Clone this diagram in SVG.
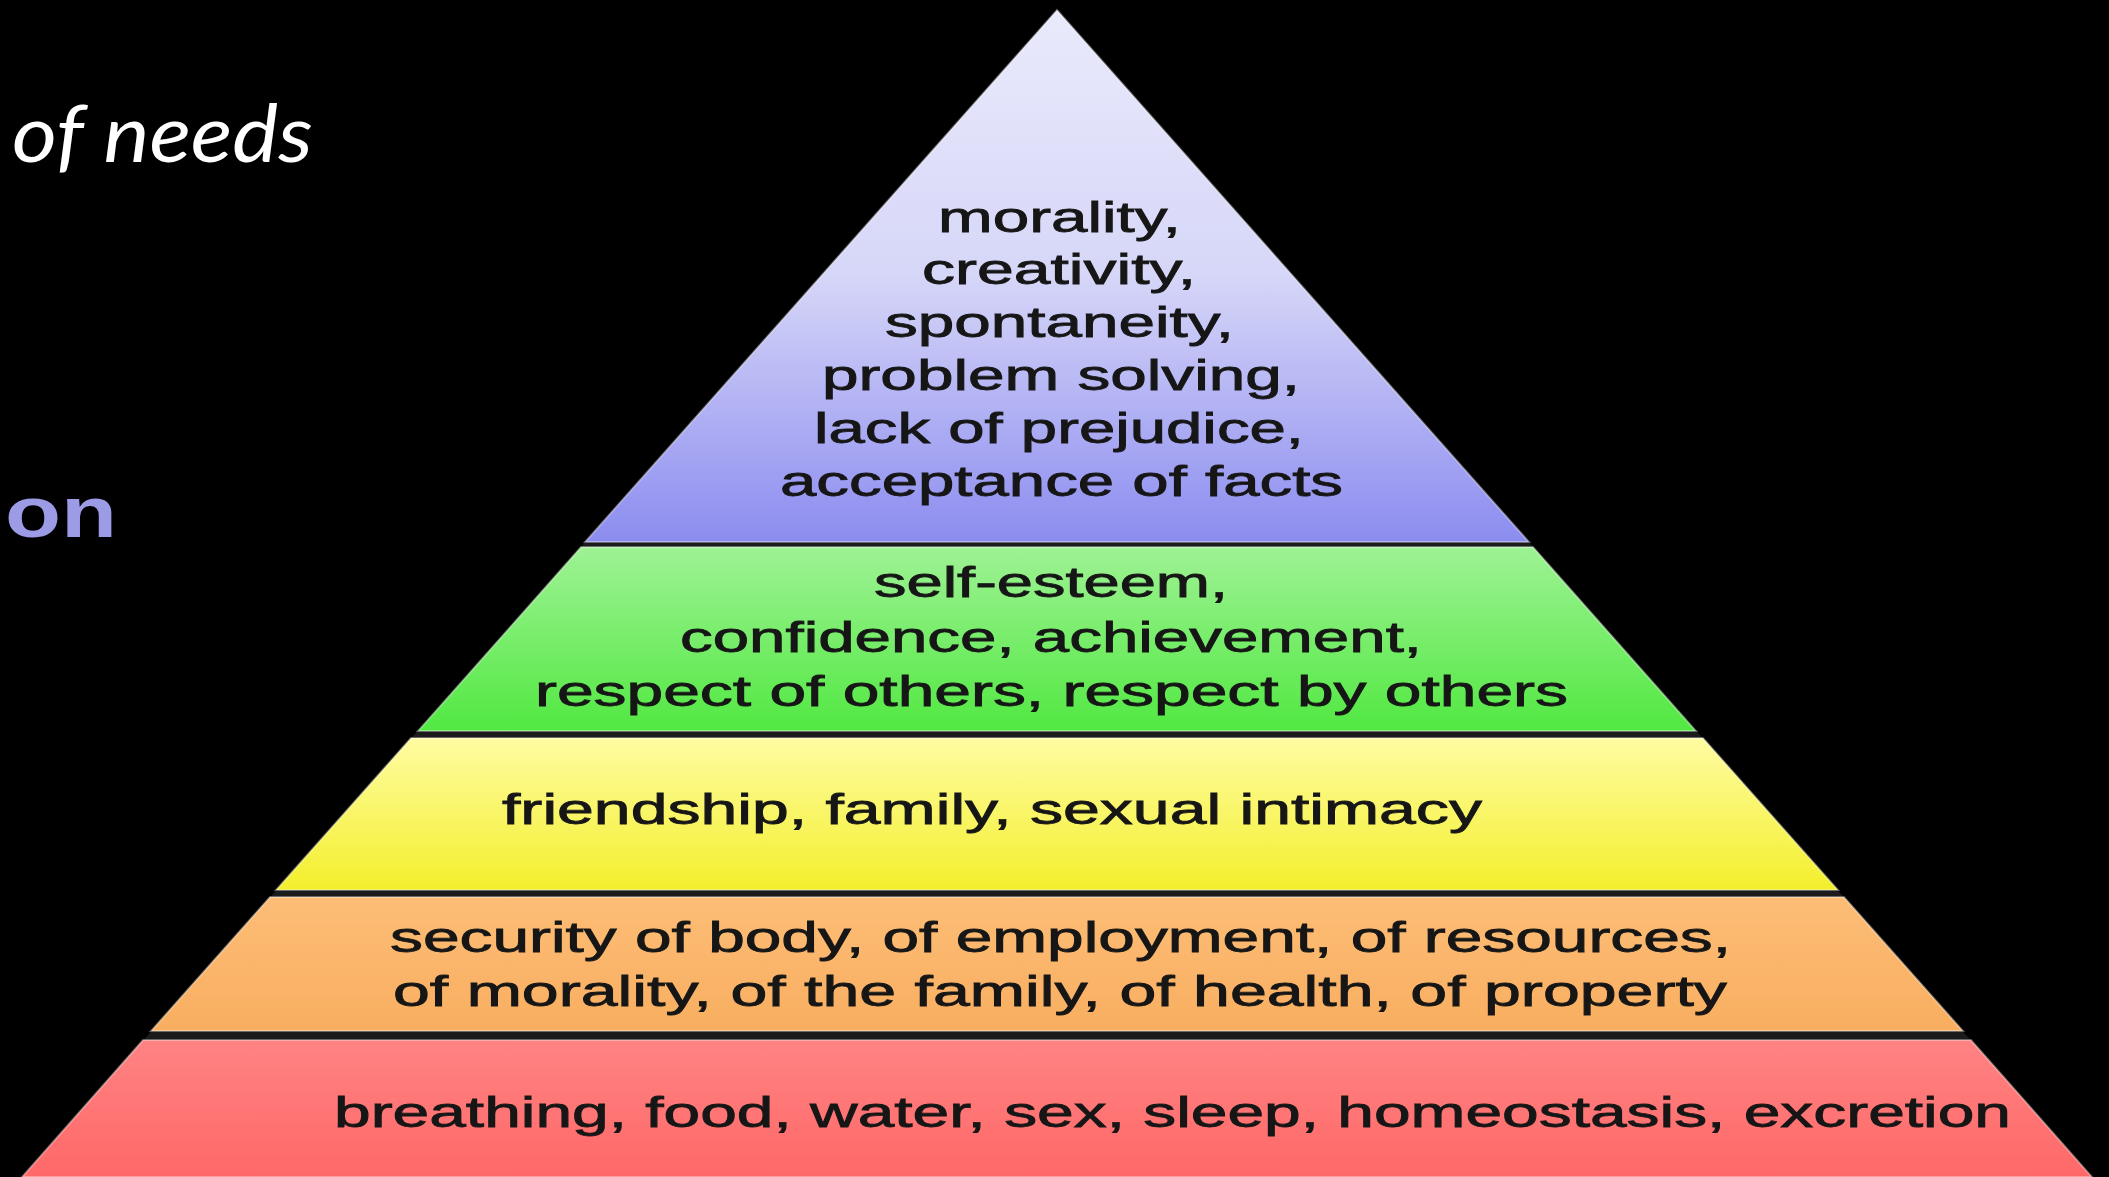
<svg xmlns="http://www.w3.org/2000/svg" width="2109" height="1177" viewBox="0 0 2109 1177">
  <defs>
    <linearGradient id="gPurple" gradientUnits="userSpaceOnUse" x1="0" y1="10" x2="0" y2="542">
      <stop offset="0" stop-color="#eaeafc"/>
      <stop offset="0.5" stop-color="#d6d6f8"/>
      <stop offset="1" stop-color="#8c8cf0"/>
    </linearGradient>
    <linearGradient id="gGreen" gradientUnits="userSpaceOnUse" x1="0" y1="547" x2="0" y2="731">
      <stop offset="0" stop-color="#9ef294"/>
      <stop offset="1" stop-color="#52e842"/>
    </linearGradient>
    <linearGradient id="gYellow" gradientUnits="userSpaceOnUse" x1="0" y1="738" x2="0" y2="890">
      <stop offset="0" stop-color="#fffca2"/>
      <stop offset="1" stop-color="#f3ef2c"/>
    </linearGradient>
    <linearGradient id="gOrange" gradientUnits="userSpaceOnUse" x1="0" y1="897" x2="0" y2="1031">
      <stop offset="0" stop-color="#fdbd76"/>
      <stop offset="1" stop-color="#f8ae60"/>
    </linearGradient>
    <linearGradient id="gRed" gradientUnits="userSpaceOnUse" x1="0" y1="1040" x2="0" y2="1177">
      <stop offset="0" stop-color="#ff8383"/>
      <stop offset="1" stop-color="#ff6868"/>
    </linearGradient>
  </defs>
  <style>
    .band { stroke: rgba(255,255,255,0.35); stroke-width: 2; stroke-linejoin: miter; }
    .lbl { font-family: "Liberation Sans", Arial, sans-serif; font-size: 42px; fill: #161616; stroke: #161616; stroke-width: 0.8px; }
    .title { font-family: Lato, "Open Sans", sans-serif; font-style: italic; font-size: 80px; fill: #ffffff; }
    .side { font-family: "Liberation Sans", Arial, sans-serif; font-weight: bold; font-size: 72px; fill: #9b9be6; }
  </style>

  <rect x="0" y="0" width="2109" height="1177" fill="#000000"/>

  <g id="title">
    <text class="title" x="12" y="162" textLength="301" lengthAdjust="spacingAndGlyphs">of needs</text>
  </g>
  <g id="side-text">
    <text class="side" x="5" y="537" textLength="112" lengthAdjust="spacingAndGlyphs">on</text>
  </g>

  <g id="pyramid-base">
    <polygon points="1057,10 2092,1177 22,1177" fill="#1b1b1b"/>
  </g>

  <g id="level-self-actualization">
    <polygon class="band" points="1057,10 1529,542 585,542" fill="url(#gPurple)"/>
    <text class="lbl" x="938" y="232" textLength="243" lengthAdjust="spacingAndGlyphs">morality,</text>
    <text class="lbl" x="922" y="284" textLength="274" lengthAdjust="spacingAndGlyphs">creativity,</text>
    <text class="lbl" x="885" y="337" textLength="349" lengthAdjust="spacingAndGlyphs">spontaneity,</text>
    <text class="lbl" x="822" y="390" textLength="478" lengthAdjust="spacingAndGlyphs">problem solving,</text>
    <text class="lbl" x="814" y="443" textLength="490" lengthAdjust="spacingAndGlyphs">lack of prejudice,</text>
    <text class="lbl" x="780" y="496" textLength="563" lengthAdjust="spacingAndGlyphs">acceptance of facts</text>
  </g>

  <g id="level-esteem">
    <polygon class="band" points="581,547 1533,547 1696,731 418,731" fill="url(#gGreen)"/>
    <text class="lbl" x="874" y="597" textLength="354" lengthAdjust="spacingAndGlyphs">self-esteem,</text>
    <text class="lbl" x="680" y="652" textLength="742" lengthAdjust="spacingAndGlyphs">confidence, achievement,</text>
    <text class="lbl" x="535" y="706" textLength="1033" lengthAdjust="spacingAndGlyphs">respect of others, respect by others</text>
  </g>

  <g id="level-love-belonging">
    <polygon class="band" points="411,738 1703,738 1838,890 276,890" fill="url(#gYellow)"/>
    <text class="lbl" x="502" y="824" textLength="980" lengthAdjust="spacingAndGlyphs">friendship, family, sexual intimacy</text>
  </g>

  <g id="level-safety">
    <polygon class="band" points="270,897 1844,897 1963,1031 151,1031" fill="url(#gOrange)"/>
    <text class="lbl" x="390" y="952" textLength="1341" lengthAdjust="spacingAndGlyphs">security of body, of employment, of resources,</text>
    <text class="lbl" x="393" y="1006" textLength="1334" lengthAdjust="spacingAndGlyphs">of morality, of the family, of health, of property</text>
  </g>

  <g id="level-physiological">
    <polygon class="band" points="143,1040 1971,1040 2092,1177 22,1177" fill="url(#gRed)"/>
    <text class="lbl" x="334" y="1127" textLength="1677" lengthAdjust="spacingAndGlyphs">breathing, food, water, sex, sleep, homeostasis, excretion</text>
  </g>
</svg>
